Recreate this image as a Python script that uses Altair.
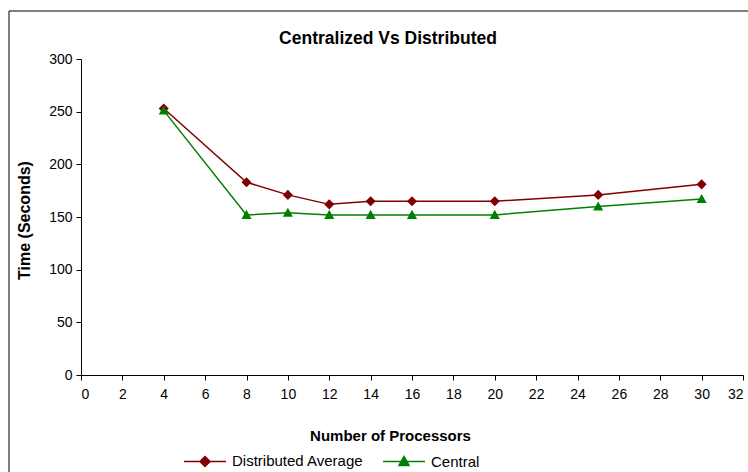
import altair as alt
import pandas as pd

processors = [4, 8, 10, 12, 14, 16, 20, 25, 30]
distributed_avg = [253, 183, 171, 162, 165, 165, 165, 171, 181]
central = [251, 152, 154, 152, 152, 152, 152, 160, 167]
series_names = ["Distributed Average", "Central"]
colors = ["#800000", "#008000"]
x_ticks = list(range(0, 33, 2))
y_ticks = list(range(0, 301, 50))

rows = []
for p, d, c in zip(processors, distributed_avg, central):
    rows.append({"proc": p, "time": d, "series": series_names[0]})
    rows.append({"proc": p, "time": c, "series": series_names[1]})
df = pd.DataFrame(rows)

FONT = "Liberation Sans"
W, H = 662, 316
SYM = 1764

x_enc = alt.X("proc:Q", scale=alt.Scale(domain=[0, 32], nice=False),
              axis=alt.Axis(values=x_ticks, title="Number of Processors",
                            titleX=309, titleY=60, titleBaseline="middle",
                            titleFontSize=15, titleFontWeight="bold",
                            labelPadding=7))
y_enc = alt.Y("time:Q", scale=alt.Scale(domain=[0, 300], nice=False),
              axis=alt.Axis(values=y_ticks, title="Time (Seconds)",
                            titleX=-57, titleY=H / 2 + 3, titleAngle=-90,
                            titleBaseline="middle", titleAlign="center",
                            titleFontSize=16, titleFontWeight="bold",
                            labelPadding=4))

# open stroke segment (legend line) + closed marker; only the marker is filled
diamond_path = "M-1,0L1,0M0,-0.24L0.24,0L0,0.24L-0.24,0Z"
tri_path = "M-1,0L1,0M0,-0.24L0.24,0.19L-0.24,0.19Z"

legend = alt.Legend(
    orient="none", legendX=102, legendY=380, direction="horizontal",
    title=None, symbolSize=SYM, symbolStrokeWidth=1.5, symbolOpacity=1,
    labelFontSize=15, labelFont=FONT, labelColor="black",
    columnPadding=16, labelOffset=5,
)

base = alt.Chart(df)

lines = base.mark_line(strokeWidth=1.5).encode(
    x=x_enc, y=y_enc,
    stroke=alt.Stroke("series:N", scale=alt.Scale(domain=series_names, range=colors),
                      legend=legend),
    detail="series:N",
)
points = base.mark_point(filled=True, size=SYM, opacity=1).encode(
    x=x_enc, y=y_enc,
    color=alt.Color("series:N", scale=alt.Scale(domain=series_names, range=colors),
                    legend=legend),
    shape=alt.Shape("series:N", scale=alt.Scale(domain=series_names, range=[diamond_path, tri_path]),
                    legend=legend),
)
frame = alt.Chart(pd.DataFrame({"a": [0]})).mark_rect(
    fill=None, stroke="black", strokeWidth=1, clip=False
).encode(
    x=alt.value(-72), x2=alt.value(700), y=alt.value(-48), y2=alt.value(440)
)

chart = alt.layer(frame, lines, points).properties(
    width=W, height=H,
    background="white",
    title=alt.TitleParams("Centralized Vs Distributed", fontSize=17.5, font=FONT,
                          fontWeight="bold", anchor="middle", dx=-24, dy=53,
                          offset=16, color="black", frame="group"),
    autosize=alt.AutoSizeParams(type="none"),
    padding={"left": 81, "top": 59, "right": 5, "bottom": 97},
).configure_view(stroke=None).configure_axis(
    labelFont=FONT, titleFont=FONT, labelFontSize=14, labelColor="black",
    titleColor="black", domainColor="black", tickColor="black", tickSize=5,
    grid=False, labelAngle=0,
)

chart.save("out.html", embed_options={"renderer": "svg", "actions": False})
